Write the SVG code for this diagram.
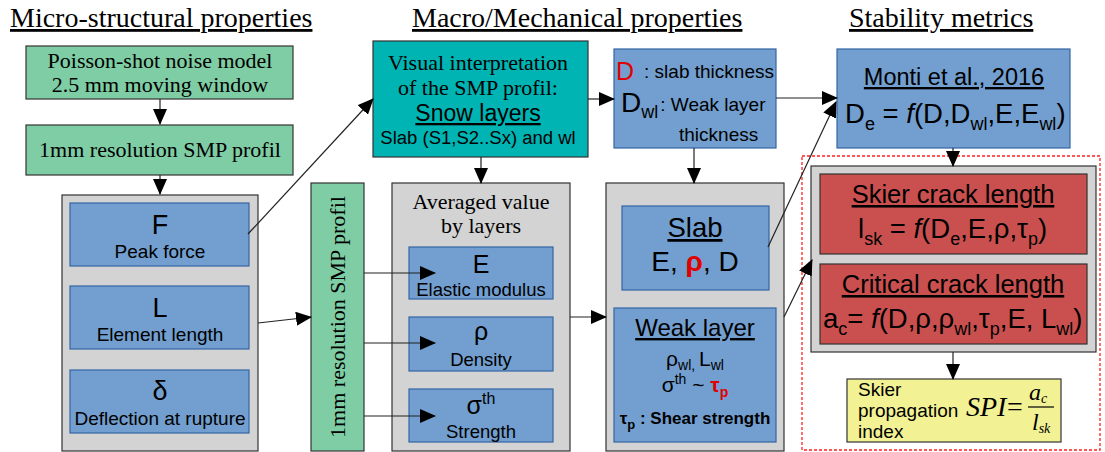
<svg xmlns="http://www.w3.org/2000/svg" width="1105" height="452" viewBox="0 0 1105 452">
<defs>
<marker id="ah" markerUnits="userSpaceOnUse" markerWidth="16" markerHeight="14" refX="15" refY="7" orient="auto">
<path d="M0,0 L16,7 L0,14 Z" fill="#000"/>
</marker>
<style>
.serif{font-family:"Liberation Serif","Times New Roman",serif;fill:#000}
.sans{font-family:"Liberation Sans",Arial,sans-serif;fill:#000}
.title{font-size:28px;text-decoration:underline}
.green{fill:#7fcda4;stroke:#333;stroke-width:1.2}
.teal{fill:#00b4b4;stroke:#333;stroke-width:1.2}
.blue{fill:#729fcf;stroke:#3465a4;stroke-width:1.2}
.grey{fill:#d3d3d3;stroke:#333;stroke-width:1.2}
.red{fill:#c9504f;stroke:#333;stroke-width:1.2}
.yellow{fill:#f2f294;stroke:#333;stroke-width:1.2}
.conn{stroke:#222;stroke-width:1.2;fill:none;marker-end:url(#ah)}
.u{text-decoration:underline}
.mid{text-anchor:middle}
.redt{fill:#e00000}
</style>
</defs>

<g id="titles">
<text class="serif title" x="10" y="27">Micro-structural properties</text>
<text class="serif title" x="412" y="27">Macro/Mechanical properties</text>
<text class="serif title" x="849" y="27">Stability metrics</text>
</g>

<g id="poisson">
<rect class="green" x="26" y="46" width="267" height="53"/>
<text class="serif mid" x="160" y="68" font-size="22">Poisson-shot noise model</text>
<text class="serif mid" x="160" y="92" font-size="22">2.5 mm moving window</text>
</g>

<g id="smp1">
<rect class="green" x="26" y="125" width="267" height="50"/>
<text class="serif mid" x="160" y="157" font-size="22">1mm resolution SMP profil</text>
</g>

<g id="micro">
<rect class="grey" x="62" y="195" width="196" height="256"/>
<g id="F">
<rect class="blue" x="70" y="203" width="179" height="63"/>
<text class="sans mid" x="160" y="234" font-size="27">F</text>
<text class="sans mid" x="160" y="258" font-size="19">Peak force</text>
</g>
<g id="L">
<rect class="blue" x="70" y="286" width="179" height="63"/>
<text class="sans mid" x="160" y="317" font-size="27">L</text>
<text class="sans mid" x="160" y="341" font-size="19">Element length</text>
</g>
<g id="delta">
<rect class="blue" x="70" y="370" width="179" height="63"/>
<text class="sans mid" x="160" y="400" font-size="27">δ</text>
<text class="sans mid" x="160" y="425" font-size="19">Deflection at rupture</text>
</g>
</g>

<g id="smp2">
<rect class="green" x="311" y="183" width="53" height="268"/>
<text class="serif mid" x="337" y="325" font-size="22" transform="rotate(-90 337 317)">1mm resolution SMP profil</text>
</g>

<g id="visual">
<rect class="teal" x="373" y="41" width="215" height="116"/>
<text class="serif mid" x="478" y="70" font-size="22">Visual interpretation</text>
<text class="serif mid" x="478" y="95" font-size="22">of the SMP profil:</text>
<text class="sans mid u" x="478" y="121" font-size="23">Snow layers</text>
<text class="sans mid" x="478" y="144" font-size="18.5">Slab (S1,S2..Sx) and wl</text>
</g>

<g id="thickness">
<rect class="blue" x="614" y="49" width="162" height="99"/>
<text class="sans" x="616" y="80" font-size="25"><tspan class="redt">D</tspan><tspan font-size="19" dx="10" dy="-2">: slab thickness</tspan></text>
<text class="sans" x="621" y="112" font-size="28">D<tspan font-size="18" dy="6">wl</tspan><tspan font-size="19" dx="2" dy="-7">: Weak layer</tspan></text>
<text class="sans" x="679" y="141" font-size="19">thickness</text>
</g>

<g id="monti">
<rect class="blue" x="837" y="49" width="233" height="99"/>
<text class="sans mid u" x="954" y="85" font-size="23.5">Monti et al., 2016</text>
<text class="sans" x="845" y="123" font-size="27.5">D<tspan font-size="18" dy="7">e</tspan><tspan dy="-7"> = </tspan><tspan font-style="italic">f</tspan>(D,D<tspan font-size="18" dy="7">wl</tspan><tspan dy="-7">,E,E</tspan><tspan font-size="18" dy="7">wl</tspan><tspan dy="-7">)</tspan></text>
</g>

<g id="averaged">
<rect class="grey" x="392" y="183" width="178" height="268"/>
<text class="serif mid" x="481" y="209" font-size="22">Averaged value</text>
<text class="serif mid" x="481" y="233" font-size="22">by layers</text>
<g id="E">
<rect class="blue" x="409" y="247" width="144" height="52"/>
<text class="sans mid" x="481" y="273" font-size="25">E</text>
<text class="sans mid" x="481" y="296" font-size="18.5">Elastic modulus</text>
</g>
<g id="rho">
<rect class="blue" x="409" y="317" width="144" height="54"/>
<text class="sans mid" x="481" y="340" font-size="25">ρ</text>
<text class="sans mid" x="481" y="366" font-size="18.5">Density</text>
</g>
<g id="sigma">
<rect class="blue" x="409" y="389" width="144" height="53"/>
<text class="sans mid" x="481" y="414" font-size="25">σ<tspan font-size="16" dy="-10">th</tspan></text>
<text class="sans mid" x="481" y="438" font-size="18.5">Strength</text>
</g>
</g>

<g id="layers">
<rect class="grey" x="606" y="183" width="178" height="268"/>
<g id="slab">
<rect class="blue" x="622" y="206" width="147" height="84"/>
<text class="sans mid u" x="695" y="237" font-size="27.5">Slab</text>
<text class="sans mid" x="695" y="271" font-size="28">E, <tspan class="redt" font-weight="bold">ρ</tspan>, D</text>
</g>
<g id="weak">
<rect class="blue" x="614" y="308" width="162" height="134"/>
<text class="sans mid u" x="695" y="336" font-size="24">Weak layer</text>
<text class="sans mid" x="695" y="366" font-size="21">ρ<tspan font-size="14" dy="4">wl, </tspan><tspan dy="-4">L</tspan><tspan font-size="14" dy="4">wl</tspan></text>
<text class="sans mid" x="695" y="392" font-size="21">σ<tspan font-size="14" dy="-8">th</tspan><tspan dy="8"> ~ </tspan><tspan class="redt" font-weight="bold">τ</tspan><tspan class="redt" font-weight="bold" font-size="14" dy="5">p</tspan></text>
<text class="sans mid" x="695" y="424" font-size="17" font-weight="bold">τ<tspan font-size="13" dy="5">p</tspan><tspan dy="-5"> : Shear strength</tspan></text>
</g>
</g>

<g id="stability">
<rect x="802" y="156" width="298" height="294" fill="none" stroke="#ff2020" stroke-width="1.3" stroke-dasharray="3,2"/>
<rect class="grey" x="811" y="166" width="285" height="186"/>
<g id="skier">
<rect class="red" x="820" y="174" width="267" height="80"/>
<text class="sans mid u" x="953" y="203" font-size="25.5">Skier crack length</text>
<text class="sans" x="858" y="238" font-size="27.5">l<tspan font-size="18" dy="7">sk</tspan><tspan dy="-7"> = </tspan><tspan font-style="italic">f</tspan>(D<tspan font-size="18" dy="7">e</tspan><tspan dy="-7">,E,ρ,τ</tspan><tspan font-size="18" dy="7">p</tspan><tspan dy="-7">)</tspan></text>
</g>
<g id="critical">
<rect class="red" x="820" y="264" width="267" height="80"/>
<text class="sans mid u" x="953" y="293" font-size="25.5">Critical crack length</text>
<text class="sans" x="823" y="328" font-size="27.5">a<tspan font-size="18" dy="7">c</tspan><tspan dy="-7">= </tspan><tspan font-style="italic">f</tspan>(D,ρ,ρ<tspan font-size="18" dy="7">wl</tspan><tspan dy="-7">,τ</tspan><tspan font-size="18" dy="7">p</tspan><tspan dy="-7">,E, L</tspan><tspan font-size="18" dy="7">wl</tspan><tspan dy="-7">)</tspan></text>
</g>
<g id="spi">
<rect class="yellow" x="847" y="379" width="214" height="63"/>
<text class="sans" x="858" y="396" font-size="19">Skier</text>
<text class="sans" x="858" y="417" font-size="19">propagation</text>
<text class="sans" x="858" y="438" font-size="19">index</text>
<text class="serif" x="966" y="416" font-size="28" font-style="italic">SPI</text>
<text class="serif" x="1007" y="416" font-size="28">=</text>
<line x1="1028" y1="407" x2="1054" y2="407" stroke="#000" stroke-width="1.2"/>
<text class="serif" x="1029" y="400" font-size="24" font-style="italic">a<tspan font-size="14" dy="3">c</tspan></text>
<text class="serif" x="1032" y="430" font-size="24" font-style="italic">l<tspan font-size="14" dy="3">sk</tspan></text>
</g>
</g>

<g id="connectors">
<line class="conn" x1="160" y1="99" x2="160" y2="124"/>
<line class="conn" x1="160" y1="175" x2="160" y2="194"/>
<line class="conn" x1="248" y1="234" x2="373" y2="99"/>
<line class="conn" x1="258" y1="323" x2="311" y2="317"/>
<line class="conn" x1="364" y1="273" x2="435" y2="273"/>
<line class="conn" x1="364" y1="343" x2="435" y2="343"/>
<line class="conn" x1="364" y1="416" x2="435" y2="416"/>
<line class="conn" x1="481" y1="157" x2="481" y2="183"/>
<line class="conn" x1="588" y1="99" x2="614" y2="99"/>
<line class="conn" x1="694" y1="148" x2="694" y2="183"/>
<line class="conn" x1="570" y1="317" x2="606" y2="317"/>
<line class="conn" x1="776" y1="98" x2="837" y2="98"/>
<line class="conn" x1="768" y1="247" x2="836" y2="102"/>
<line class="conn" x1="784" y1="317" x2="812" y2="260"/>
<line class="conn" x1="953" y1="148" x2="953" y2="166"/>
<line class="conn" x1="953" y1="352" x2="953" y2="379"/>
</g>
</svg>
